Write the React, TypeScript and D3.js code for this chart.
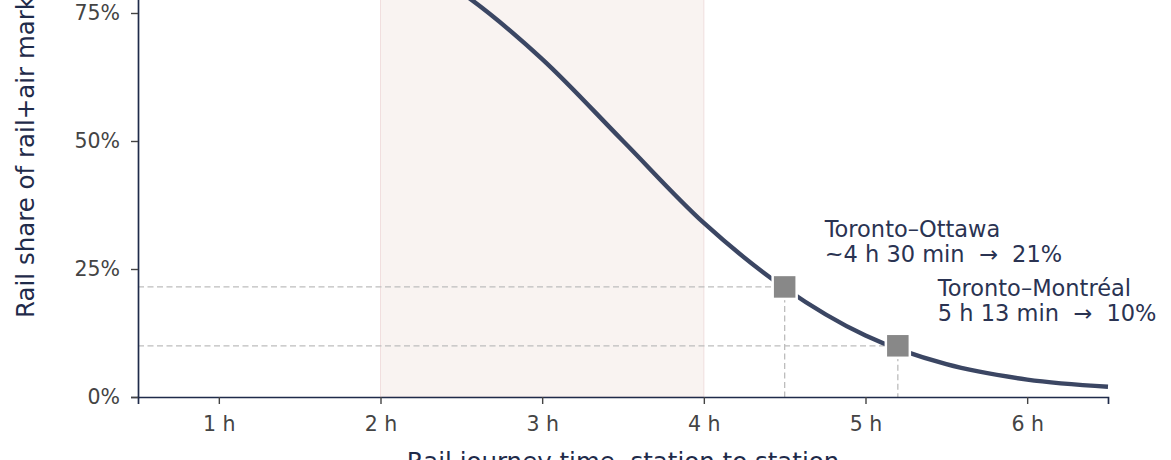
import React, { useEffect, useRef } from 'react';
import * as d3 from 'd3';

// rail share of the rail+air market
const hours = [0.5, 1, 1.5, 2, 2.5, 3, 3.5, 4, 4.5, 5, 5.5, 6, 6.5];
const railShare = [0.98, 0.965, 0.934, 0.88, 0.79, 0.66, 0.5, 0.34, 0.213, 0.12, 0.064, 0.034, 0.02];

const routeNames = ['Toronto–Ottawa', 'Toronto–Montréal'];
const routeHours = [4.5, 5.2];
const routeShares = [0.215, 0.10];
const routeNotes = ['~4 h 30 min  →  21%', '5 h 13 min  →  10%'];

const bandHours = [2, 4];
const xTicks = [1, 2, 3, 4, 5, 6];
const yTicks = [0, 0.25, 0.5, 0.75, 1];

const W = 1171;
const H = 460;
const FONT = '"DejaVu Sans", sans-serif';
const NAVY = '#1f2b4a';

export default function App() {
  const xAxisRef = useRef<SVGGElement>(null);
  const yAxisRef = useRef<SVGGElement>(null);

  const x = d3.scaleLinear().domain([0.5, 6.5]).range([138, 1108]);
  const y = d3.scaleLinear().domain([0, 1]).range([397, -115]);

  const line = d3.line<number>()
    .x((_, i) => x(hours[i]))
    .y(d => y(d))
    .curve(d3.curveMonotoneX);

  useEffect(() => {
    if (!xAxisRef.current || !yAxisRef.current) return;

    d3.select(xAxisRef.current)
      .call(d3.axisBottom(x).tickValues(xTicks).tickFormat(d => `${d} h`).tickSize(7).tickPadding(12))
      .call(g => g.select('.domain').attr('stroke', NAVY).attr('stroke-width', 1.7))
      .call(g => g.selectAll('.tick line').attr('stroke', '#444').attr('stroke-width', 1.4))
      .call(g => g.selectAll('.tick text').attr('fill', '#444').attr('font-family', FONT).attr('font-size', '20.5px'));

    d3.select(yAxisRef.current)
      .call(d3.axisLeft(y).tickValues(yTicks).tickFormat(d3.format('.0%')).tickSize(7).tickPadding(11))
      .call(g => g.select('.domain').attr('stroke', NAVY).attr('stroke-width', 1.7))
      .call(g => g.selectAll('.tick line').attr('stroke', '#444').attr('stroke-width', 1.4))
      .call(g => g.selectAll('.tick text').attr('fill', '#444').attr('font-family', FONT).attr('font-size', '20.5px'));
  }, []);

  return (
    <svg width={W} height={H} style={{ position: 'fixed', left: 0, top: 0, background: '#fff' }}>
      <rect
        x={x(bandHours[0])}
        y={y(1.05)}
        width={x(bandHours[1]) - x(bandHours[0])}
        height={y(0) - y(1.05)}
        fill="#f9f3f1"
        stroke="#f1dede"
        strokeWidth={1}
      />

      {routeHours.map((h, i) => (
        <g key={routeNames[i]} stroke="#bdbdbd" strokeWidth={1.3} strokeDasharray="6,3.5" fill="none">
          <line x1={x(0.5)} x2={x(h)} y1={y(routeShares[i])} y2={y(routeShares[i])} />
          <line x1={x(h)} x2={x(h)} y1={y(routeShares[i])} y2={y(0)} />
        </g>
      ))}

      <path d={line(railShare) || ''} fill="none" stroke="#3b4663" strokeWidth={4.4} />

      {routeHours.map((h, i) => (
        <rect
          key={routeNames[i]}
          x={x(h) - 12}
          y={y(routeShares[i]) - 12}
          width={24}
          height={24}
          fill="#888888"
          stroke="#ffffff"
          strokeWidth={2.5}
        />
      ))}

      {routeHours.map((h, i) => (
        <text
          key={routeNames[i]}
          x={x(h) + 40}
          y={y(routeShares[i]) - 50}
          fill="#2a3352"
          fontFamily={FONT}
          fontSize={22.5}
          style={{ whiteSpace: 'pre' }}
        >
          <tspan x={x(h) + 40}>{routeNames[i]}</tspan>
          <tspan x={x(h) + 40} dy={25.5}>{routeNotes[i]}</tspan>
        </text>
      ))}

      <g ref={xAxisRef} transform={`translate(0,${y(0)})`} />
      <g ref={yAxisRef} transform={`translate(${x(0.5)},0)`} />

      <text
        transform={`translate(34,318) rotate(-90)`}
        fill={NAVY}
        fontFamily={FONT}
        fontSize={24.5}
        textAnchor="start"
      >
        Rail share of rail+air market
      </text>
      <text
        x={(x(0.5) + x(6.5)) / 2}
        y={470}
        fill={NAVY}
        fontFamily={FONT}
        fontSize={24.5}
        textAnchor="middle"
      >
        Rail journey time, station to station
      </text>
    </svg>
  );
}
